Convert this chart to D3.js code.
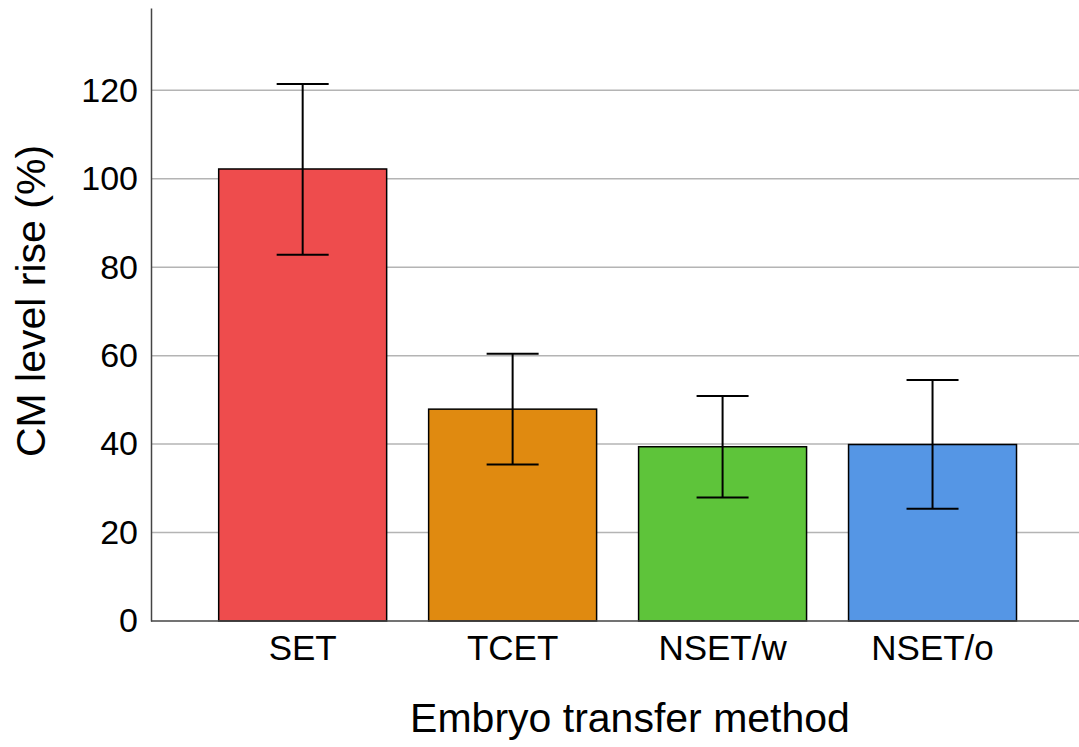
<!DOCTYPE html>
<html>
<head>
<meta charset="utf-8">
<script src="https://cdn.jsdelivr.net/npm/d3@7"></script>
<style>
  body { margin: 0; background: #fff; }
  text { font-family: "Liberation Sans", Arial, sans-serif; fill: #000; }
</style>
</head>
<body>
<svg></svg>
<script>
// Chart data
const categories = ["SET", "TCET", "NSET/w", "NSET/o"];
const means = [102.2, 47.9, 39.4, 39.9];
const lower = [82.8, 35.4, 27.9, 25.4];
const upper = [121.4, 60.4, 50.9, 54.5];
const colors = ["#ee4c4d", "#e08a10", "#5ec43a", "#5596e5"];
const yTicks = [0, 20, 40, 60, 80, 100, 120];

const width = 1079;
const height = 747;
const margin = { top: 8, right: 0, bottom: 126, left: 151 };

const svg = d3.select("svg")
    .attr("width", width)
    .attr("height", height);

const x = d3.scaleBand()
    .domain(categories)
    .range([margin.left, width - margin.right])
    .paddingInner(0.2)
    .paddingOuter(0.31)
    .align(0.52);

const y = d3.scaleLinear()
    .domain([0, 138.6])
    .range([height - margin.bottom, margin.top]);

// Gridlines
svg.append("g")
    .selectAll("line")
    .data(yTicks.filter(d => d > 0))
    .enter().append("line")
    .attr("x1", margin.left)
    .attr("x2", width - margin.right)
    .attr("y1", d => y(d))
    .attr("y2", d => y(d))
    .attr("stroke", "#b4b4b4")
    .attr("stroke-width", 1.5);

const rows = categories.map((c, i) => ({ cat: c, mean: means[i], lo: lower[i], hi: upper[i], color: colors[i] }));

// Bars
svg.append("g")
    .selectAll("rect")
    .data(rows)
    .enter().append("rect")
    .attr("x", d => x(d.cat))
    .attr("y", d => y(d.mean))
    .attr("width", x.bandwidth())
    .attr("height", d => y(0) - y(d.mean))
    .attr("fill", d => d.color)
    .attr("stroke", "#000")
    .attr("stroke-width", 1.5);

// Error bars
const capW = 52;
const err = svg.append("g")
    .selectAll("g")
    .data(rows)
    .enter().append("g")
    .attr("stroke", "#000")
    .attr("stroke-width", 2);

err.append("line")
    .attr("x1", d => x(d.cat) + x.bandwidth() / 2)
    .attr("x2", d => x(d.cat) + x.bandwidth() / 2)
    .attr("y1", d => y(d.lo))
    .attr("y2", d => y(d.hi));

err.append("line")
    .attr("x1", d => x(d.cat) + x.bandwidth() / 2 - capW / 2)
    .attr("x2", d => x(d.cat) + x.bandwidth() / 2 + capW / 2)
    .attr("y1", d => y(d.hi))
    .attr("y2", d => y(d.hi));

err.append("line")
    .attr("x1", d => x(d.cat) + x.bandwidth() / 2 - capW / 2)
    .attr("x2", d => x(d.cat) + x.bandwidth() / 2 + capW / 2)
    .attr("y1", d => y(d.lo))
    .attr("y2", d => y(d.lo));

// X axis
const xAxis = svg.append("g")
    .attr("transform", `translate(0,${y(0)})`)
    .call(d3.axisBottom(x).tickSize(0).tickPadding(14));
xAxis.select(".domain")
    .attr("stroke", "#444")
    .attr("stroke-width", 1.5)
    .attr("d", `M${margin.left},0H${width - margin.right}`);
xAxis.selectAll("text")
    .style("font-size", "35px")
    .attr("dy", "0.71em");

// Y axis
const yAxis = svg.append("g")
    .attr("transform", `translate(${margin.left},0)`)
    .call(d3.axisLeft(y).tickValues(yTicks).tickSize(0).tickPadding(13));
yAxis.select(".domain")
    .attr("stroke", "#444")
    .attr("stroke-width", 1.5);
yAxis.selectAll("text")
    .style("font-size", "34px");

// Axis titles
svg.append("text")
    .attr("x", 630)
    .attr("y", 732)
    .attr("text-anchor", "middle")
    .style("font-size", "41px")
    .text("Embryo transfer method");

svg.append("text")
    .attr("transform", "translate(45,301) rotate(-90)")
    .attr("text-anchor", "middle")
    .style("font-size", "41px")
    .text("CM level rise (%)");
</script>
</body>
</html>
